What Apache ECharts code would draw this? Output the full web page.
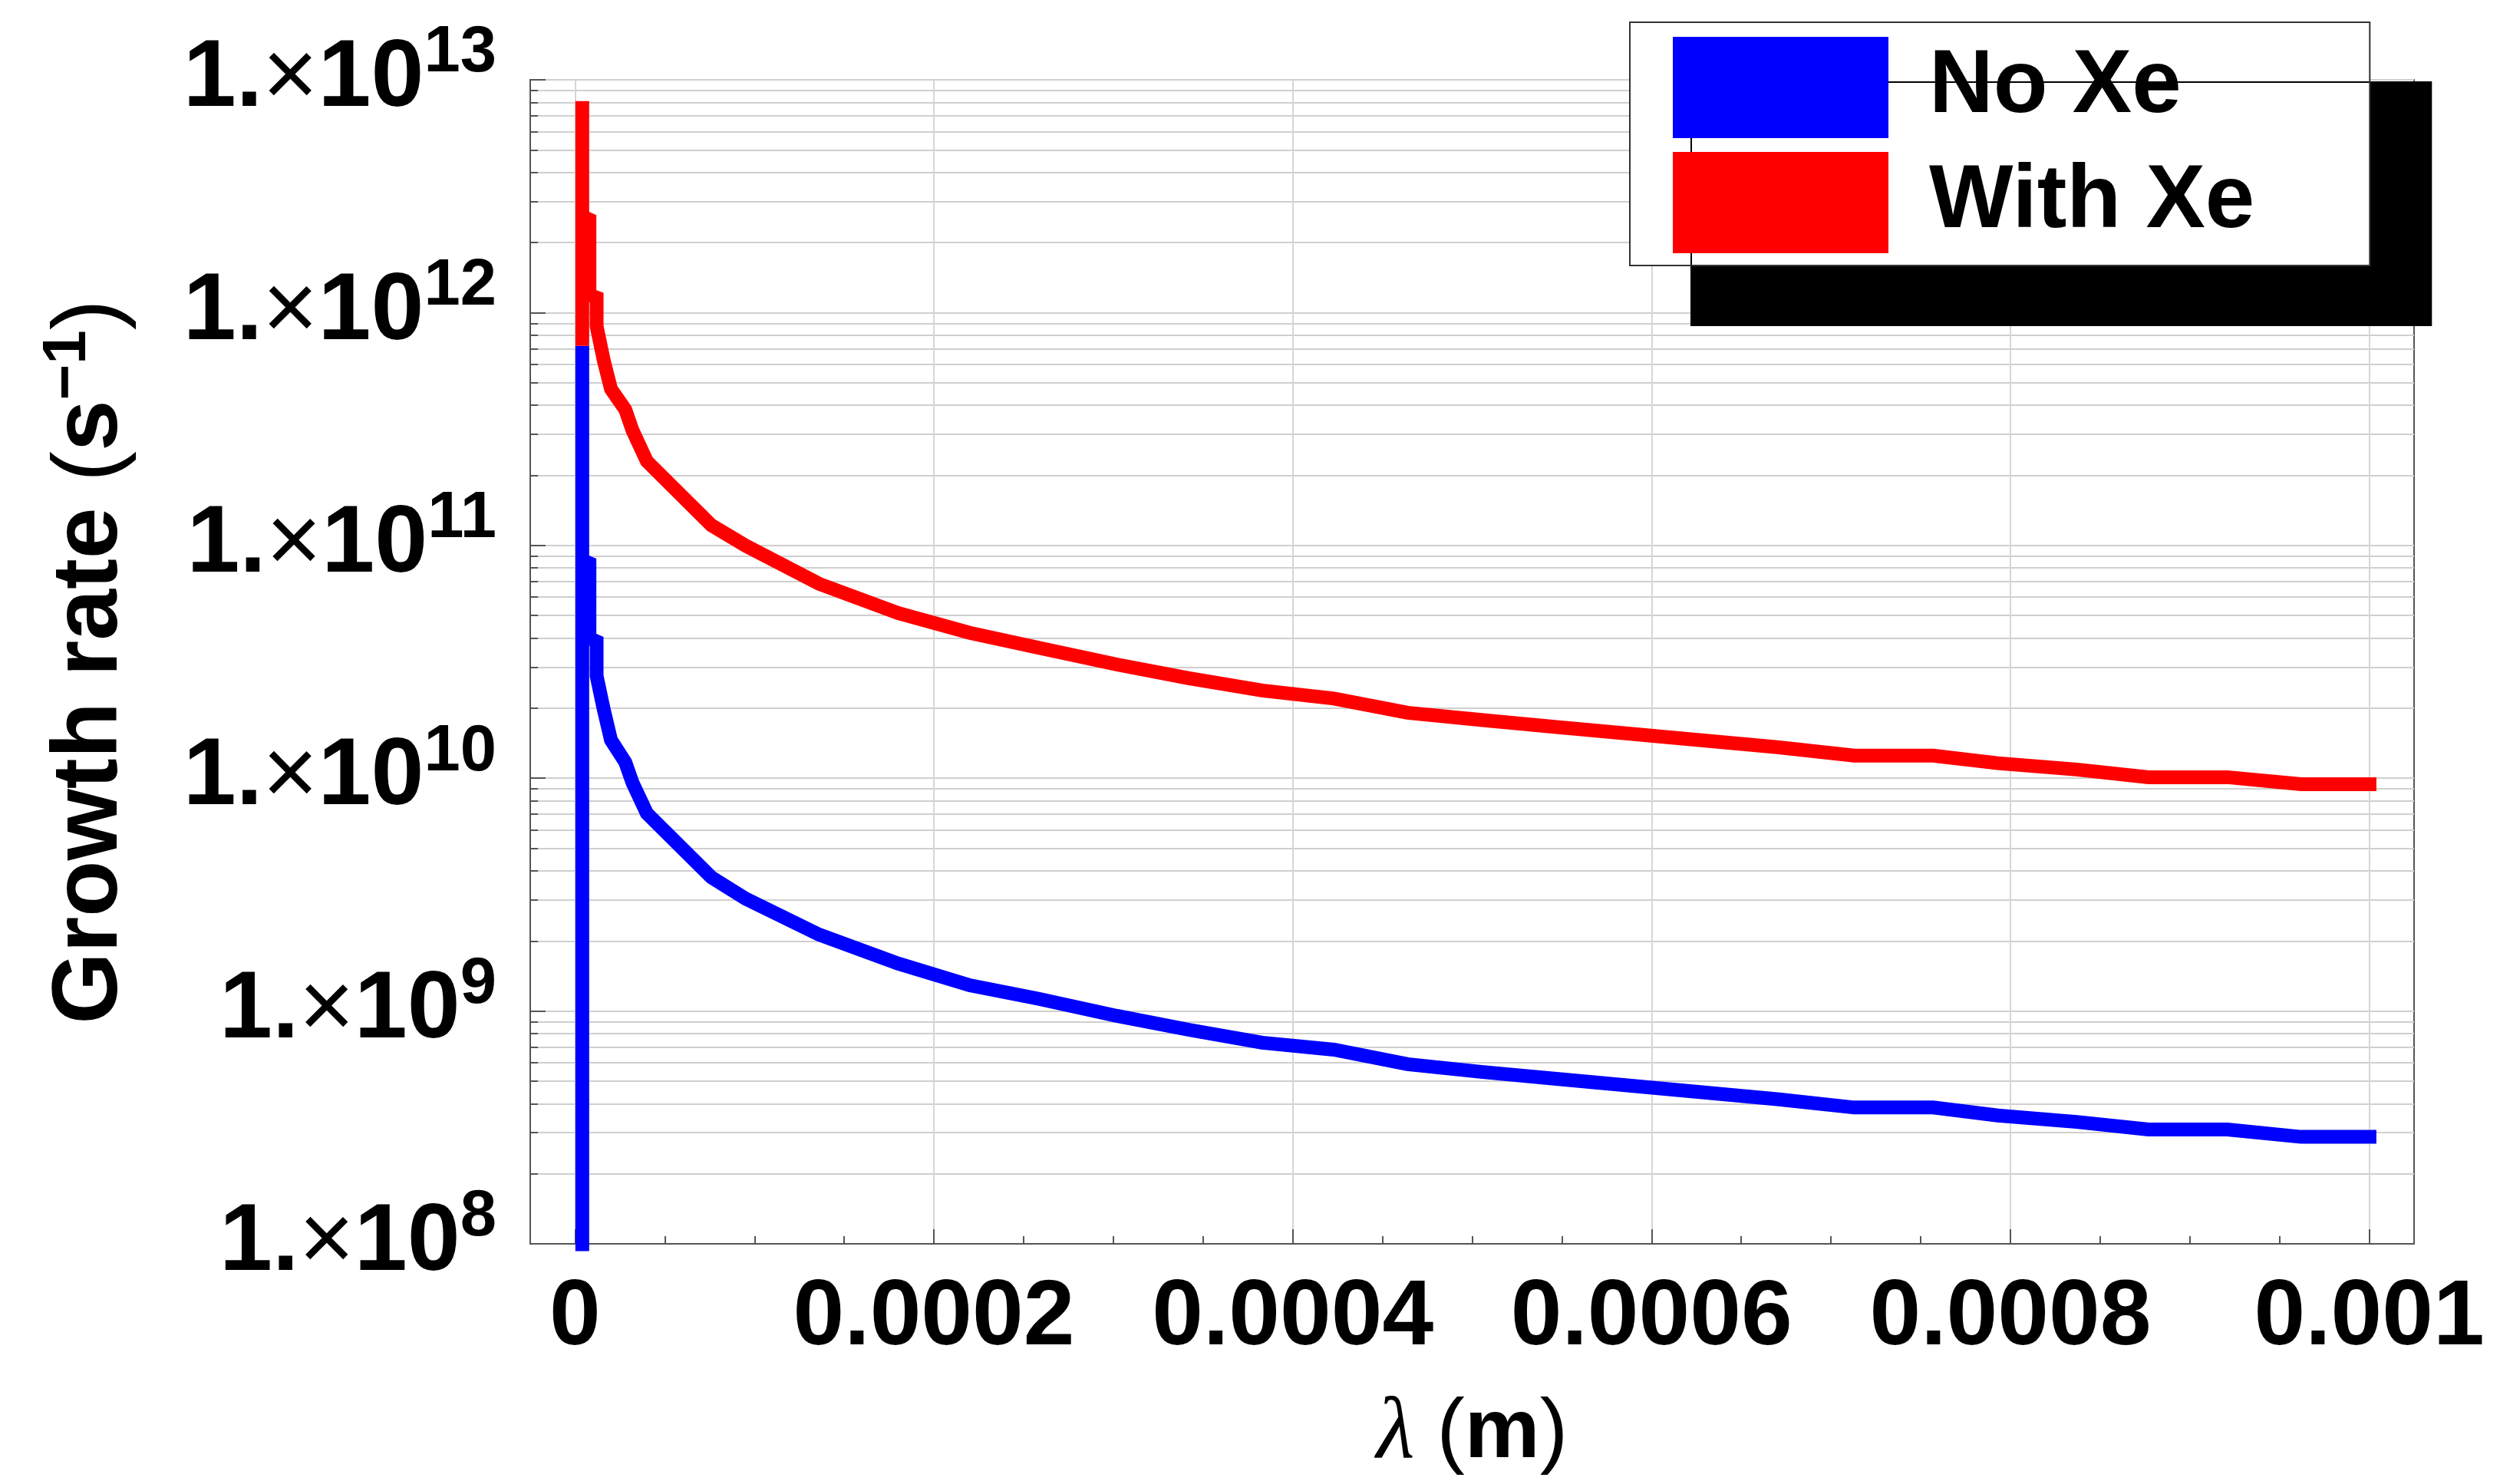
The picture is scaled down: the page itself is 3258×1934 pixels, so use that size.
<!DOCTYPE html>
<html>
<head>
<meta charset="utf-8">
<title>Growth rate</title>
<script src="https://cdn.jsdelivr.net/npm/echarts@6/dist/echarts.min.js"></script>
<style>
  html, body { margin: 0; padding: 0; background: #fff; }
  #chart { width: 3258px; height: 1934px; }
</style>
</head>
<body>
<div id="chart"></div>
<script>
// wavelength (m), shared by both curves
const lambda = [
  0.000004, 0.000004, 0.000004, 0.000008, 0.000008, 0.000012, 0.000012,
  0.000016, 0.00002, 0.000028, 0.000032, 0.00004,
  0.000076, 0.000095, 0.000136, 0.00018, 0.00022,
  0.000258, 0.000302, 0.000342, 0.000383, 0.000423,
  0.000464, 0.000505, 0.000547, 0.00067, 0.000713,
  0.000757, 0.000793, 0.000837, 0.000877, 0.000921,
  0.000962, 0.001004
]

// growth rate (1/s)
const rateNoXe = [
  9.3e7, 7.2e11, 8.65e10, 8.39e10, 3.99e10, 3.87e10, 2.75e10,
  1.97e10, 1.46e10, 1.17e10, 9.57e9, 7.07e9,
  3.75e9, 3.04e9, 2.13e9, 1.6e9, 1.29e9,
  1.13e9, 9.53e8, 8.31e8, 7.31e8, 6.82e8,
  5.91e8, 5.48e8, 5.11e8, 4.18e8, 3.85e8,
  3.85e8, 3.56e8, 3.34e8, 3.1e8, 3.1e8,
  2.88e8, 2.88e8
]

const rateWithXe = [
  7.2e11, 8.1e12, 2.59e12, 2.51e12, 1.19e12, 1.16e12, 8.75e11,
  6.22e11, 4.7e11, 3.83e11, 3.12e11, 2.3e11,
  1.22e11, 9.98e10, 6.84e10, 5.12e10, 4.21e10,
  3.64e10, 3.08e10, 2.69e10, 2.38e10, 2.2e10,
  1.91e10, 1.78e10, 1.66e10, 1.36e10, 1.25e10,
  1.25e10, 1.16e10, 1.09e10, 1.01e10, 1.01e10,
  9.42e9, 9.42e9
]

const seriesNames = ['No Xe', 'With Xe']

// ticks
const xMajorTicks = [0, 0.0002, 0.0004, 0.0006, 0.0008, 0.001]
const xMinorTicks = [
  0.00005, 0.0001, 0.00015, 0.00025, 0.0003, 0.00035, 0.00045, 0.0005,
  0.00055, 0.00065, 0.0007, 0.00075, 0.00085, 0.0009, 0.00095
]
const yMajorTicks = [1e8, 1e9, 1e10, 1e11, 1e12, 1e13]
const yMinorSteps = [2, 3, 4, 5, 6, 7, 8, 9]

const yMinorTicks = []
yMajorTicks.slice(0, -1).forEach((d) => {
  yMinorSteps.forEach((m) => yMinorTicks.push(m * d))
})

const FONT = "'Liberation Sans', Arial, sans-serif"
const axisColor = '#555'
const gridColor = '#cfcfcf'

const chart = echarts.init(document.getElementById('chart'))

const option = {
  animation: false,
  backgroundColor: '#fff',
  grid: {
    left: 691,
    right: 112,
    top: 104,
    bottom: 313,
    show: true,
    borderColor: axisColor,
    borderWidth: 2,
    backgroundColor: 'transparent'
  },
  legend: {
    data: seriesNames,
    orient: 'vertical',
    left: 2124,
    top: 29,
    icon: 'rect',
    itemWidth: 281,
    itemHeight: 132,
    itemGap: 18,
    // extra right padding to get the wide box of the original
    padding: [19, 150, 16, 56],
    backgroundColor: '#fff',
    borderColor: '#333',
    borderWidth: 2,
    shadowColor: '#000',
    shadowBlur: 0,
    shadowOffsetX: 80,
    shadowOffsetY: 78,
    textStyle: {
      fontFamily: FONT,
      fontWeight: 'bold',
      fontSize: 116,
      color: '#000',
      padding: [0, 0, 0, 48]
    }
  },
  xAxis: [
    {
      type: 'value',
      min: -0.000025,
      max: 0.001025,
      position: 'bottom',
      name: '{l|λ }{p|(}{m|m}{p|)}',
      nameLocation: 'middle',
      nameGap: 190,
      nameTextStyle: {
        rich: {
          l: { fontFamily: "'Liberation Serif', serif", fontStyle: 'italic', fontSize: 115, color: '#000' },
          p: { fontFamily: FONT, fontSize: 110, color: '#000' },
          m: { fontFamily: FONT, fontWeight: 'bold', fontSize: 110, color: '#000' }
        }
      },
      axisLine: { onZero: false, lineStyle: { color: axisColor, width: 2 } },
      axisTick: {
        customValues: xMajorTicks,
        inside: true,
        length: 19,
        lineStyle: { color: axisColor, width: 2 }
      },
      axisLabel: {
        customValues: xMajorTicks,
        margin: 38,
        fontFamily: FONT,
        fontWeight: 'bold',
        fontSize: 120,
        color: '#000',
        formatter: (v) => String(v)
      },
      splitLine: { show: true, lineStyle: { color: '#d6d6d6', width: 2 } }
    },
    {
      // minor ticks only
      type: 'value',
      min: -0.000025,
      max: 0.001025,
      position: 'bottom',
      axisLine: { show: false, onZero: false },
      axisTick: {
        customValues: xMinorTicks,
        inside: true,
        length: 10,
        lineStyle: { color: axisColor, width: 2 }
      },
      axisLabel: { show: false },
      splitLine: { show: false }
    }
  ],
  yAxis: [
    {
      type: 'log',
      logBase: 10,
      min: 1e8,
      max: 1e13,
      position: 'left',
      name: '{t|Growth rate }{p|(}{t|s}{s|−1}{p|)}',
      nameLocation: 'middle',
      nameGap: 502,
      nameTextStyle: {
        rich: {
          t: { fontFamily: FONT, fontWeight: 'bold', fontSize: 120, color: '#000' },
          p: { fontFamily: FONT, fontSize: 120, color: '#000' },
          s: { fontFamily: FONT, fontWeight: 'bold', fontSize: 80, color: '#000', padding: [0, 0, 60, 0] }
        }
      },
      axisLine: { onZero: false, lineStyle: { color: axisColor, width: 2 } },
      axisTick: {
        customValues: yMajorTicks,
        inside: true,
        length: 20,
        lineStyle: { color: axisColor, width: 2 }
      },
      axisLabel: {
        customValues: yMajorTicks,
        margin: 44,
        formatter: (v) => '{a|1.}{x|×}{a|10}{b|' + Math.round(Math.log10(v)) + '}',
        rich: {
          a: { fontFamily: FONT, fontWeight: 'bold', fontSize: 124, color: '#000' },
          x: { fontFamily: FONT, fontSize: 124, color: '#000' },
          b: { fontFamily: FONT, fontWeight: 'bold', fontSize: 85, color: '#000', padding: [0, 0, 68, 0] }
        }
      },
      splitLine: { show: true, lineStyle: { color: gridColor, width: 2 } }
    },
    {
      // minor ticks + minor grid lines
      type: 'log',
      logBase: 10,
      min: 1e8,
      max: 1e13,
      position: 'left',
      axisLine: { show: false, onZero: false },
      axisTick: {
        customValues: yMinorTicks,
        inside: true,
        length: 10,
        lineStyle: { color: axisColor, width: 2 }
      },
      axisLabel: { show: false },
      splitLine: { show: true, lineStyle: { color: gridColor, width: 2 } }
    }
  ],
  series: [
    {
      name: seriesNames[0],
      type: 'line',
      data: lambda.map((x, i) => [x, rateNoXe[i]]),
      symbol: 'none',
      showSymbol: false,
      clip: false,
      z: 2,
      itemStyle: { color: '#0000ff' },
      lineStyle: { color: '#0000ff', width: 18, cap: 'butt', join: 'miter' },
      emphasis: { disabled: true }
    },
    {
      name: seriesNames[1],
      type: 'line',
      data: lambda.map((x, i) => [x, rateWithXe[i]]),
      symbol: 'none',
      showSymbol: false,
      clip: false,
      z: 3,
      itemStyle: { color: '#ff0000' },
      lineStyle: { color: '#ff0000', width: 18, cap: 'butt', join: 'miter' },
      emphasis: { disabled: true }
    }
  ]
}

chart.setOption(option)

window.addEventListener('resize', () => chart.resize())
</script>
</body>
</html>
